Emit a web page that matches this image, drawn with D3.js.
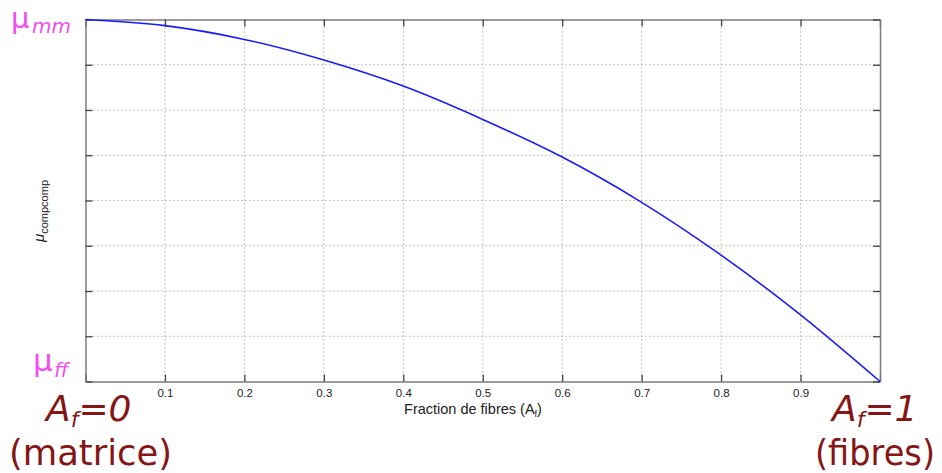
<!DOCTYPE html>
<html>
<head>
<meta charset="utf-8">
<script src="https://cdn.jsdelivr.net/npm/d3@7"></script>
<style>
html,body{margin:0;padding:0;background:#fff;}
svg{display:block;}
</style>
</head>
<body>
<svg id="chart" width="942" height="473"></svg>
<script>
// ---- data ----
const fraction = [0, 0.1, 0.2, 0.3, 0.4, 0.5, 0.6, 0.7, 0.8, 0.9, 1.0];
const muComp   = [1.0, 0.983, 0.945, 0.888, 0.816, 0.724, 0.620, 0.495, 0.349, 0.184, 0.0];
const xTicks = [0, 0.1, 0.2, 0.3, 0.4, 0.5, 0.6, 0.7, 0.8, 0.9, 1.0];
const xTickLabels = ["", "0.1", "0.2", "0.3", "0.4", "0.5", "0.6", "0.7", "0.8", "0.9", ""];
const yTicks = [0, 0.125, 0.25, 0.375, 0.5, 0.625, 0.75, 0.875, 1.0];

const svg = d3.select("#chart");
const L = 85.5, R = 880, T = 19.5, B = 381.5;
const x = d3.scaleLinear().domain([0, 1]).range([L, R]);
const y = d3.scaleLinear().domain([0, 1]).range([B, T]);

// grid
const g = svg.append("g");
g.selectAll(".vg").data(xTicks.slice(1, -1)).enter().append("line")
  .attr("x1", d => x(d)).attr("x2", d => x(d)).attr("y1", T).attr("y2", B)
  .attr("stroke", "#8a8a8a").attr("stroke-width", 1).attr("stroke-dasharray", "1,3");
g.selectAll(".hg").data(yTicks.slice(1, -1)).enter().append("line")
  .attr("x1", L).attr("x2", R).attr("y1", d => y(d)).attr("y2", d => y(d))
  .attr("stroke", "#8a8a8a").attr("stroke-width", 1).attr("stroke-dasharray", "1,3");

// axes (MATLAB-style, ticks inward on all sides)
const tl = 7;
const xAxisB = d3.axisBottom(x).tickValues(xTicks).tickSizeInner(-tl).tickSizeOuter(0)
  .tickPadding(7).tickFormat((d, i) => xTickLabels[i]);
const xAxisT = d3.axisTop(x).tickValues(xTicks).tickSizeInner(-tl).tickSizeOuter(0).tickFormat("");
const yAxisL = d3.axisLeft(y).tickValues(yTicks).tickSizeInner(-tl).tickSizeOuter(0).tickFormat("");
const yAxisR = d3.axisRight(y).tickValues(yTicks).tickSizeInner(-tl).tickSizeOuter(0).tickFormat("");

function styleAxis(sel) {
  sel.select(".domain").attr("stroke", "#7a7a7a").attr("stroke-width", 1.5);
  sel.selectAll(".tick line").attr("stroke", "#444").attr("stroke-width", 1.3);
  sel.selectAll(".tick text").attr("fill", "#222").attr("font-family", "Liberation Sans, Arial, sans-serif").attr("font-size", 11.5);
}
svg.append("g").attr("transform", `translate(0,${B})`).call(xAxisB).call(styleAxis);
svg.append("g").attr("transform", `translate(0,${T})`).call(xAxisT).call(styleAxis);
svg.append("g").attr("transform", `translate(${L},0)`).call(yAxisL).call(styleAxis);
svg.append("g").attr("transform", `translate(${R},0)`).call(yAxisR).call(styleAxis);

// curve
const line = d3.line().x((d, i) => x(fraction[i])).y(d => y(d)).curve(d3.curveMonotoneX);
svg.append("path").datum(muComp).attr("d", line)
  .attr("fill", "none").attr("stroke", "#1a1aff").attr("stroke-width", 1.6);

// x axis title
const xt = svg.append("text").attr("x", 473).attr("y", 414).attr("text-anchor", "middle")
  .attr("font-family", "Liberation Sans, Arial, sans-serif").attr("font-size", 14.5).attr("fill", "#222");
xt.append("tspan").text("Fraction de fibres (A");
xt.append("tspan").attr("font-size", 9).attr("dy", 3).text("f");
xt.append("tspan").attr("dy", -3).text(")");

// y axis title (rotated)
const yt = svg.append("text").attr("transform", "translate(44,242) rotate(-90)")
  .attr("font-family", "Liberation Sans, Arial, sans-serif").attr("fill", "#222");
yt.append("tspan").attr("font-size", 15).attr("font-style", "italic").text("μ");
yt.append("tspan").attr("font-size", 11).attr("dy", 4).text("compcomp");

// pink labels
const pink = "#f04ef0";
const f1 = "DejaVu Sans, sans-serif";
svg.append("text").attr("x", 11).attr("y", 28).attr("font-family", f1).attr("font-size", 29).attr("fill", pink).text("μ");
svg.append("text").attr("x", 32).attr("y", 33).attr("font-family", f1).attr("font-size", 20).attr("font-style", "italic").attr("fill", pink).text("mm");
svg.append("text").attr("x", 33).attr("y", 371).attr("font-family", f1).attr("font-size", 31).attr("fill", pink).text("μ");
svg.append("text").attr("x", 54).attr("y", 377).attr("font-family", f1).attr("font-size", 20).attr("font-style", "italic").attr("fill", pink).text("ff");

// dark red annotations
const red = "#861616";
function aLabel(xp, yp, num) {
  const t = svg.append("text").attr("x", xp).attr("y", yp).attr("font-family", f1)
    .attr("font-size", 36).attr("font-style", "italic").attr("fill", red);
  t.append("tspan").text("A");
  t.append("tspan").attr("font-size", 22).attr("dy", 6).text("f");
  t.append("tspan").attr("dy", -6).text("=" + num);
}
aLabel(46, 421, "0");
aLabel(832, 421, "1");
svg.append("text").attr("x", 9).attr("y", 465).attr("font-family", f1).attr("font-size", 35)
  .attr("fill", red).attr("textLength", 163).attr("lengthAdjust", "spacingAndGlyphs").text("(matrice)");
svg.append("text").attr("x", 815).attr("y", 465).attr("font-family", f1).attr("font-size", 35)
  .attr("fill", red).attr("textLength", 120).attr("lengthAdjust", "spacingAndGlyphs").text("(fibres)");
</script>
</body>
</html>
